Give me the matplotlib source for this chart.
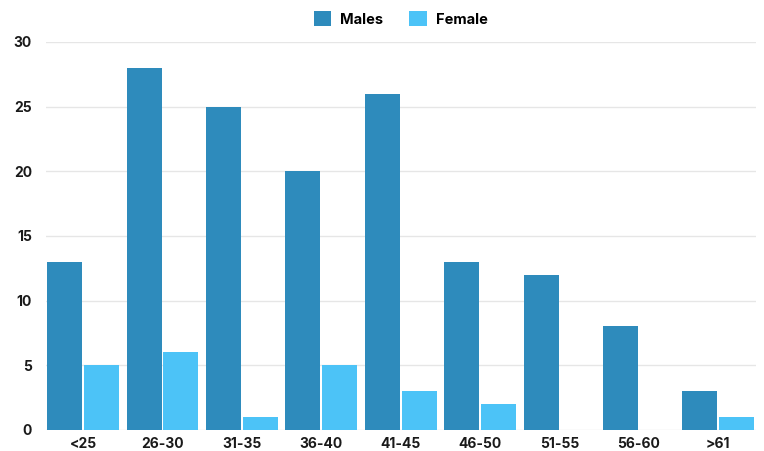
import numpy as np
import matplotlib.pyplot as plt

# Age groups and counts
age_groups = ["<25", "26-30", "31-35", "36-40", "41-45", "46-50", "51-55", "56-60", ">61"]
males = [13, 28, 25, 20, 26, 13, 12, 8, 3]
females = [5, 6, 1, 5, 3, 2, 0, 0, 1]

plt.rcParams['font.family'] = ['Inter', 'DejaVu Sans']
plt.rcParams['font.weight'] = 'bold'

fig = plt.figure(figsize=(7.64, 4.51), dpi=100)
ax = fig.add_axes([0.060, 0.047, 0.929, 0.860])

x = np.arange(len(age_groups))
w = 0.44
ax.bar(x - w / 2 - 0.012, males, w, color='#2E8BBC', label='Males', zorder=3)
ax.bar(x + w / 2 + 0.012, females, w, color='#4CC3F7', label='Female', zorder=3)

ax.set_xlim(-0.47, len(age_groups) - 0.53)
ax.set_ylim(0, 30)
ax.set_yticks(range(0, 31, 5))
ax.set_xticks(x)
ax.set_xticklabels(age_groups)
ax.tick_params(length=0, labelsize=10, colors='#1a1a1a')
ax.tick_params(axis='y', pad=10)
ax.tick_params(axis='x', pad=5)
for lbl in ax.get_xticklabels() + ax.get_yticklabels():
    lbl.set_fontweight('bold')

ax.grid(axis='y', color='#e6e6e6', linewidth=1, zorder=0)
for s in ax.spines.values():
    s.set_visible(False)

ax.legend(loc='lower center', bbox_to_anchor=(0.5, 1.013), ncol=2, frameon=False,
          fontsize=10.5, handlelength=1.2, handleheight=1.2, columnspacing=1.8,
          handletextpad=0.6, borderaxespad=0.3)

fig.savefig('out.png', dpi=100)
